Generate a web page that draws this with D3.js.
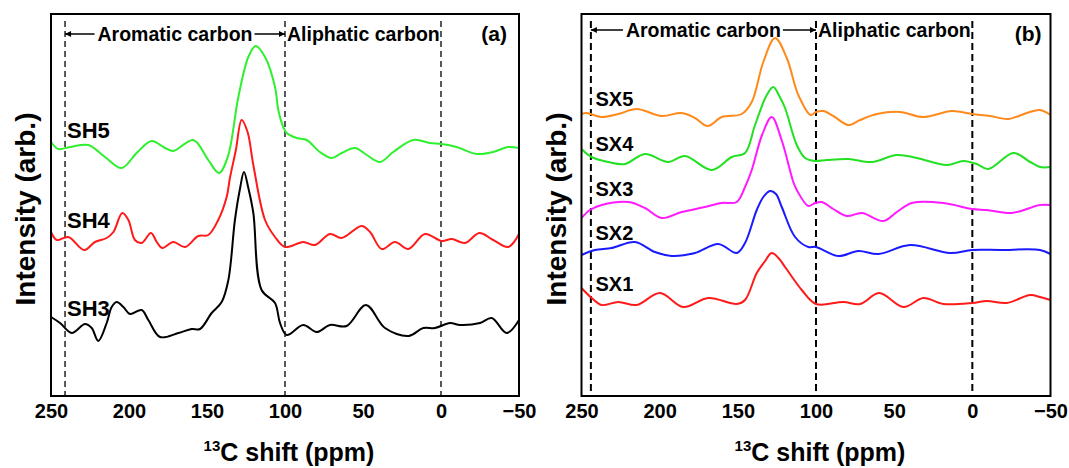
<!DOCTYPE html>
<html>
<head>
<meta charset="utf-8">
<script src="https://cdn.jsdelivr.net/npm/d3@7"></script>
<style>
  body { margin: 0; background: #fff; }
  text { font-family: "Liberation Sans", Arial, sans-serif; font-weight: bold; fill: #000; }
</style>
</head>
<body>
<svg id="chart" width="1069" height="468"></svg>
<script>
// x axis ticks (ppm) and region boundaries
const XTICKS = [250, 200, 150, 100, 50, 0, -50];
const BOUNDS_A = [241, 100, 0];
const BOUNDS_B = [244, 100, 0];

// panel (a) spectra: [ppm, intensity]
const SH5 = [[250,254],[245.3,247],[237.8,249],[226.1,251],[215.4,239],[204.7,228],[195.1,243],[185.5,255],[176.9,248],[171.6,245],[158.8,256],[149.2,236],[142.3,223],[136.7,239],[129.9,299],[123.5,339],[118.8,350],[112.8,339],[106.4,309],[104.3,286],[101.1,269],[98.9,263],[92.5,258],[86.1,256],[77.6,244],[70.1,238],[63.7,243],[55.1,248],[47.6,241],[39.1,234],[30.6,244],[17.8,256],[7.1,253],[-0.4,252],[-10,249],[-22.9,242],[-33.5,244],[-43.1,249],[-50,248]];
const SH4 = [[250,164],[246.3,156],[238.9,159],[228.7,146],[221.8,154],[214.3,158],[210,164],[204.3,183],[200.4,176],[196.2,156],[191.9,153],[185.9,163],[182.2,154],[178.7,148],[171.6,154],[164.1,149],[155.6,160],[149.2,161],[142.8,176],[137.4,199],[135.3,218],[131.5,246],[127.8,276],[124,264],[120.3,231],[112.8,176],[106.4,159],[100,149],[88.3,154],[80.8,151],[71.2,162],[63.7,158],[50.9,170],[45.5,164],[38,147],[29.5,154],[20.9,147],[10.3,162],[-0.4,155],[-6.9,157],[-15.4,153],[-24.6,163],[-33.5,156],[-43.1,149],[-50,162]];
const SH3 = [[250,79],[244.2,73],[236.7,63],[228.2,72],[223.9,68],[219.7,55],[214.3,73],[211.1,89],[207.9,94],[203.6,89],[199.4,82],[191.9,86],[187.6,76],[180.1,59],[168.4,63],[159.8,67],[154.5,67],[147,83],[140.6,94],[136.3,116],[132.1,176],[129,206],[126.3,224],[123.5,208],[120.3,183],[115,106],[106.4,93],[103.2,73],[98.9,61],[88.3,71],[79.7,64],[71.2,71],[60.5,70],[48.1,91],[35.9,68],[20.9,60],[11.3,68],[3.8,68],[-5.8,73],[-12.2,71],[-25,73],[-32.5,78],[-42.1,63],[-50,76]];

// panel (b) spectra: [ppm, intensity]
const SX5 = [[250,282],[246.7,283],[237.1,279],[226.5,282],[214.7,287],[198.7,280],[185.9,283],[177.4,278],[169.3,270],[160.3,279],[147.5,282],[141.1,294],[133.7,334],[126.2,358],[118.7,338],[111.3,301],[103.4,281],[100,284],[95.3,285],[88.9,280],[79.3,271],[71.8,276],[61.1,282],[46.2,284],[31.3,279],[13.1,285],[0,282],[-11.4,280],[-23.1,277],[-34.8,283],[-43.3,286],[-50,281]];
const SX4 = [[250,247],[243.6,239],[232.9,234],[222.2,232],[209.4,242],[194.5,234],[183.8,240],[166.7,226],[153.9,239],[145.4,243],[139,271],[131.5,301],[127.3,309],[123.5,300],[119.8,288],[112.3,251],[107,238],[100.6,235],[93.1,236],[79.3,237],[64.3,234],[48.3,241],[35.5,238],[16.3,231],[5.7,235],[-2.8,232],[-10.3,227],[-26.3,243],[-37,234],[-43.3,229],[-50,229]];
const SX3 = [[250,178],[244.6,186],[237.1,191],[220,194],[209.4,188],[198.7,178],[185.9,184],[171,189],[160.3,193],[150.7,194],[145.4,209],[141.1,226],[134.5,261],[128.3,279],[122,256],[114.5,214],[112.3,206],[104.9,190],[100.6,193],[96.3,194],[88.9,187],[80.3,180],[70.7,183],[56.9,175],[48.3,184],[38.7,193],[18.5,193],[0,187],[-9.2,186],[-25.2,183],[-43.3,191],[-50,191]];
const SX2 = [[250,141],[241.4,146],[230.7,148],[215.8,154],[203,144],[192.3,140],[177.4,143],[162.5,152],[150.7,143],[145.4,153],[137.9,186],[133.7,199],[129.4,205],[125.6,202],[121.9,189],[113.4,159],[104.9,149],[100,149],[85.7,140],[72.9,145],[60.1,142],[39.8,151],[14.2,143],[0,146],[-17.8,146],[-43.3,146],[-50,142]];
const SX1 = [[250,108],[243.5,98],[237.1,91],[226.5,94],[214.7,91],[199.8,103],[184.9,89],[168.9,98],[150.7,92],[145.4,96],[137.9,123],[133,134],[128.3,143],[124,138],[119.8,129],[109.1,106],[100,92],[82.5,94],[71.8,92],[59.5,103],[44.1,89],[31.3,98],[18.5,92],[0,93],[-9.2,95],[-22,93],[-37,101],[-43.3,99],[-50,96]];

const NAMES_A = ["SH3", "SH4", "SH5"];
const NAMES_B = ["SX1", "SX2", "SX3", "SX4", "SX5"];

const svg = d3.select("#chart");

const defs = svg.append("defs");
defs.append("marker")
  .attr("id", "arrow")
  .attr("viewBox", "0 0 10 10")
  .attr("refX", 10).attr("refY", 5)
  .attr("markerUnits", "userSpaceOnUse")
  .attr("markerWidth", 9).attr("markerHeight", 6)
  .attr("orient", "auto")
  .append("path").attr("d", "M0,0 L10,5 L0,10 z").attr("fill", "#000");

function drawPanel(p) {
  const x = d3.scaleLinear().domain([250, -50]).range([p.left, p.right]);
  const y = d3.scaleLinear().domain([0, 382]).range([p.bottom, p.top]);
  const g = svg.append("g");

  // region dashed lines
  g.selectAll(".bound")
    .data(p.bounds)
    .enter()
    .append("line")
    .attr("x1", d => x(d)).attr("x2", d => x(d))
    .attr("y1", p.top + 7).attr("y2", p.bottom)
    .attr("stroke", "#000")
    .attr("stroke-width", p.dashWidth)
    .attr("stroke-dasharray", p.dash);

  const line = d3.line()
    .x(d => x(d[0]))
    .y(d => y(d[1]))
    .curve(d3.curveCatmullRom.alpha(0.5));

  g.selectAll(".spec")
    .data(p.series)
    .enter()
    .append("path")
    .attr("d", d => line(d))
    .attr("fill", "none")
    .attr("stroke", (d, i) => p.colors[i])
    .attr("stroke-width", 2);

  // sample labels
  g.selectAll(".lab")
    .data(p.names)
    .enter()
    .append("text")
    .attr("x", p.left + p.labelDx)
    .attr("y", (d, i) => y(p.labelY[i]))
    .attr("font-size", p.labelSize)
    .text(d => d);

  // frame
  g.append("rect")
    .attr("x", p.left).attr("y", p.top)
    .attr("width", p.right - p.left).attr("height", p.bottom - p.top)
    .attr("fill", "none").attr("stroke", "#000").attr("stroke-width", 2);

  // x axis
  const ax = g.append("g")
    .attr("transform", `translate(0,${p.bottom})`)
    .call(d3.axisBottom(x).tickValues(XTICKS).tickSize(0).tickPadding(8));
  ax.select(".domain").remove();
  ax.selectAll("text")
    .attr("font-size", 20)
    .attr("font-family", "Liberation Sans, Arial, sans-serif")
    .attr("font-weight", "bold")
    .attr("fill", "#000");

  const cx = (p.left + p.right) / 2;
  const xt = g.append("text")
    .attr("x", cx + 4).attr("y", 461)
    .attr("text-anchor", "middle")
    .attr("font-size", 25);
  xt.append("tspan").attr("font-size", 15).attr("dy", -10).text("13");
  xt.append("tspan").attr("dy", 10).text("C shift (ppm)");

  g.append("text")
    .attr("transform", `translate(${p.left - 16},${(p.top + p.bottom) / 2 + 4}) rotate(-90)`)
    .attr("text-anchor", "middle")
    .attr("font-size", 28)
    .text("Intensity (arb.)");

  // region annotation
  const aro = g.append("text")
    .attr("x", (x(p.bounds[0]) + x(p.bounds[1])) / 2)
    .attr("y", p.annY)
    .attr("text-anchor", "middle")
    .attr("font-size", 19.5)
    .text("Aromatic carbon");
  const w = aro.node().getComputedTextLength();
  const mid = (x(p.bounds[0]) + x(p.bounds[1])) / 2;
  g.append("line")
    .attr("x1", mid - w / 2 - 3).attr("x2", x(p.bounds[0]))
    .attr("y1", p.annY - 7).attr("y2", p.annY - 7)
    .attr("stroke", "#000").attr("stroke-width", 1.5)
    .attr("marker-end", "url(#arrow)");
  g.append("line")
    .attr("x1", mid + w / 2 + 2).attr("x2", x(p.bounds[1]))
    .attr("y1", p.annY - 7).attr("y2", p.annY - 7)
    .attr("stroke", "#000").attr("stroke-width", 1.5)
    .attr("marker-end", "url(#arrow)");
  g.append("text")
    .attr("x", x(p.bounds[1]) + 2)
    .attr("y", p.annY)
    .attr("font-size", 19.5)
    .text("Aliphatic carbon");

  g.append("text")
    .attr("x", p.right - p.tagDx)
    .attr("y", 41)
    .attr("text-anchor", "end")
    .attr("font-size", 21)
    .text(p.tag);
}

drawPanel({
  left: 51, right: 519, top: 14, bottom: 396,
  bounds: BOUNDS_A,
  series: [SH3, SH4, SH5],
  names: NAMES_A,
  colors: ["#000000", "#ff1a1a", "#2ef02e"],
  labelY: [80, 168, 258],
  labelDx: 16, labelSize: 22,
  dash: "6,4", dashWidth: 1.3,
  annY: 41, tag: "(a)", tagDx: 12
});

drawPanel({
  left: 581.5, right: 1050.5, top: 14, bottom: 396,
  bounds: BOUNDS_B,
  series: [SX1, SX2, SX3, SX4, SX5],
  names: NAMES_B,
  colors: ["#ff1a1a", "#1a1aff", "#ff1aff", "#22e022", "#ff8a1c"],
  labelY: [105, 156, 200, 245, 290],
  labelDx: 14, labelSize: 20,
  dash: "7,4", dashWidth: 2,
  annY: 37, tag: "(b)", tagDx: 9
});
</script>
</body>
</html>
